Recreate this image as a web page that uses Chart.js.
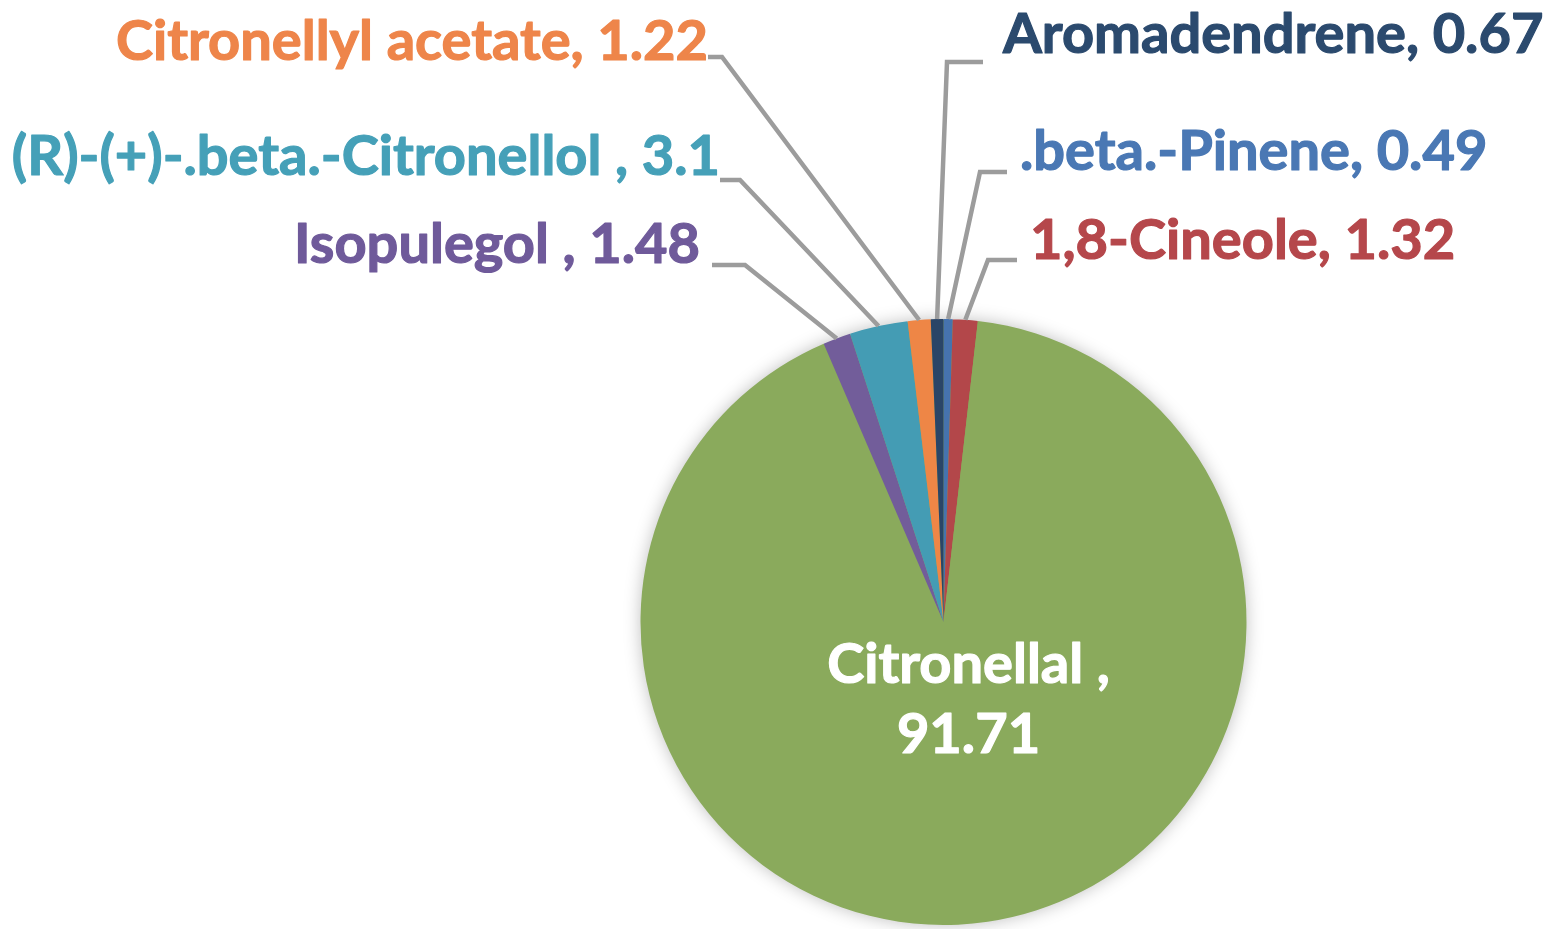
<!DOCTYPE html>
<html>
<head>
<meta charset="utf-8">
<script src="https://cdn.jsdelivr.net/npm/chart.js@4"></script>
<style>
  html, body { margin: 0; padding: 0; background: #fff; }
  #wrap { width: 1545px; height: 929px; position: relative; }
</style>
</head>
<body>
<div id="wrap"><canvas id="myChart"></canvas></div>
<script>
// data (clockwise from 12 o'clock)
const compounds = ['.beta.-Pinene', '1,8-Cineole', 'Citronellal ', 'Isopulegol ', '(R)-(+)-.beta.-Citronellol ', 'Citronellyl acetate', 'Aromadendrene'];
const amounts = [0.49, 1.32, 91.71, 1.48, 3.1, 1.22, 0.67];
const amountText = ['0.49', '1.32', '91.71', '1.48', '3.1', '1.22', '0.67'];

const sliceColors = ['#4673AE', '#B3474A', '#8AAA5C', '#725D9A', '#449CB4', '#EE8646', '#2A4567'];
const textColors = ['#4A78B4', '#B5474B', '#FFFFFF', '#6F5A9A', '#45A0B8', '#EE854A', '#2B4A6E'];

// where each label sits and how its leader line bends
const labelSpots = [
    { x: 1020, y: 152, align: 'left',  elbow: [980, 172], end: [1007, 172] },
    { x: 1030, y: 241, align: 'left',  elbow: [988, 260], end: [1017, 260] },
    { inside: true, dx: 25, dy: 78 },
    { x: 700,  y: 245, align: 'right', elbow: [745, 265], end: [712, 265] },
    { x: 720,  y: 157, align: 'right', elbow: [740, 180], end: [720, 180] },
    { x: 708,  y: 42,  align: 'right', elbow: [722, 57],  end: [708, 57] },
    { x: 1003, y: 35,  align: 'left',  elbow: [947, 62],  end: [983, 62] }
];

const labelFont = 'bold 56px Lato, "Open Sans", sans-serif';

const pieShadow = {
    id: 'pieShadow',
    beforeDatasetsDraw(chart) {
        const arc = chart.getDatasetMeta(0).data[0];
        if (!arc) return;
        const ctx = chart.ctx;
        ctx.save();
        ctx.shadowColor = 'rgba(0,0,0,0.28)';
        ctx.shadowBlur = 18;
        ctx.fillStyle = '#8AAA5C';
        ctx.beginPath();
        ctx.arc(arc.x, arc.y, arc.outerRadius - 1, 0, Math.PI * 2);
        ctx.fill();
        ctx.restore();
    }
};

function boldText(ctx, str, x, y) {
    ctx.fillText(str, x, y);
    ctx.strokeText(str, x, y);
}

const sliceLabels = {
    id: 'sliceLabels',
    afterDatasetsDraw(chart) {
        const ctx = chart.ctx;
        const meta = chart.getDatasetMeta(0);
        ctx.save();
        ctx.font = labelFont;
        ctx.textBaseline = 'middle';
        ctx.lineJoin = 'round';
        meta.data.forEach((arc, i) => {
            const spot = labelSpots[i];
            ctx.fillStyle = textColors[i];
            if (spot.inside) {
                const cx = arc.x + spot.dx;
                const cy = arc.y + spot.dy;
                ctx.strokeStyle = textColors[i];
                ctx.lineWidth = 1.2;
                ctx.textAlign = 'center';
                boldText(ctx, compounds[i] + ',', cx, cy - 35);
                boldText(ctx, amountText[i], cx, cy + 35);
                return;
            }
            const mid = (arc.startAngle + arc.endAngle) / 2;
            const sx = arc.x + Math.cos(mid) * arc.outerRadius;
            const sy = arc.y + Math.sin(mid) * arc.outerRadius;
            ctx.strokeStyle = '#9C9C9C';
            ctx.lineWidth = 4.5;
            ctx.lineJoin = 'miter';
            ctx.beginPath();
            ctx.moveTo(sx, sy);
            ctx.lineTo(spot.elbow[0], spot.elbow[1]);
            ctx.lineTo(spot.end[0], spot.end[1]);
            ctx.stroke();
            ctx.lineJoin = 'round';
            ctx.strokeStyle = textColors[i];
            ctx.lineWidth = 1.2;
            ctx.textAlign = spot.align;
            boldText(ctx, compounds[i] + ', ' + amountText[i], spot.x, spot.y);
        });
        ctx.restore();
    }
};

const ctx = document.getElementById('myChart').getContext('2d');
const myPieChart = new Chart(ctx, {
    type: 'pie',
    data: {
        labels: compounds,
        datasets: [{
            data: amounts,
            backgroundColor: sliceColors,
            borderWidth: 0
        }]
    },
    options: {
        responsive: true,
        maintainAspectRatio: false,
        animation: false,
        layout: {
            padding: { left: 640, right: 298, top: 319, bottom: 4 }
        },
        plugins: {
            legend: { display: false },
            tooltip: { enabled: false }
        }
    },
    plugins: [pieShadow, sliceLabels]
});
</script>
</body>
</html>
